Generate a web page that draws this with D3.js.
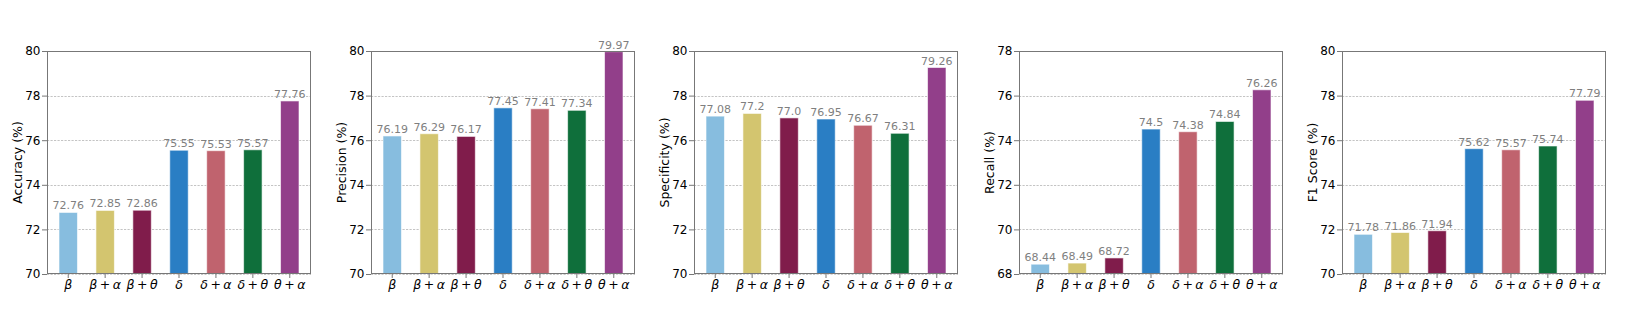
<!DOCTYPE html>
<html>
<head>
<meta charset="utf-8">
<script src="https://cdn.jsdelivr.net/npm/d3@7"></script>
<style>
  body { margin: 0; background: #fff; }
  text { font-family: "DejaVu Sans", sans-serif; }
</style>
</head>
<body>
<div id="chart"></div>
<script>
// categories (mathtext-like labels: greek + greek)
var categories = ["β", "β+α", "β+θ", "δ", "δ+α", "δ+θ", "θ+α"];
var colors = ["#87bddf", "#d3c56f", "#801c4b", "#2a7ec4", "#c0636e", "#0f6f3b", "#923f8a"];

// metric names and values
var metrics = ["Accuracy (%)", "Precision (%)", "Specificity (%)", "Recall (%)", "F1 Score (%)"];
var accuracy    = [72.76, 72.85, 72.86, 75.55, 75.53, 75.57, 77.76];
var precision   = [76.19, 76.29, 76.17, 77.45, 77.41, 77.34, 79.97];
var specificity = [77.08, 77.2, 77.0, 76.95, 76.67, 76.31, 79.26];
var recall      = [68.44, 68.49, 68.72, 74.5, 74.38, 74.84, 76.26];
var f1          = [71.78, 71.86, 71.94, 75.62, 75.57, 75.74, 77.79];
var valueLabels = [
  ["72.76", "72.85", "72.86", "75.55", "75.53", "75.57", "77.76"],
  ["76.19", "76.29", "76.17", "77.45", "77.41", "77.34", "79.97"],
  ["77.08", "77.2", "77.0", "76.95", "76.67", "76.31", "79.26"],
  ["68.44", "68.49", "68.72", "74.5", "74.38", "74.84", "76.26"],
  ["71.78", "71.86", "71.94", "75.62", "75.57", "75.74", "77.79"]
];
var seriesValues = [accuracy, precision, specificity, recall, f1];

// y ranges and ticks
var yDomains = [[70, 80], [70, 80], [70, 80], [68, 78], [70, 80]];
var yTicks = [
  [70, 72, 74, 76, 78, 80],
  [70, 72, 74, 76, 78, 80],
  [70, 72, 74, 76, 78, 80],
  [68, 70, 72, 74, 76, 78],
  [70, 72, 74, 76, 78, 80]
];

var W = 1644, H = 325;
var panelLeft = [47, 371, 694, 1019, 1342];
var panelW = 264, plotTop = 51, plotBottom = 274;

var svg = d3.select("#chart")
  .append("svg")
    .attr("width", W)
    .attr("height", H);

svg.append("rect").attr("width", W).attr("height", H).attr("fill", "#fff");

metrics.forEach(function(name, k) {
  var values = seriesValues[k];
  var g = svg.append("g")
    .attr("transform", "translate(" + panelLeft[k] + "," + plotTop + ")");
  var h = plotBottom - plotTop;

  // x: bar centers at 0..6, width 0.5, matplotlib 5% margins
  var x = d3.scaleLinear()
    .domain([-0.575, 6.575])
    .range([0, panelW]);

  var y = d3.scaleLinear()
    .domain(yDomains[k])
    .range([h, 0]);

  // grid
  g.selectAll(".grid")
    .data(yTicks[k])
    .enter()
    .append("line")
      .attr("x1", 0)
      .attr("x2", panelW)
      .attr("y1", function(d) { return Math.round(y(d)) + 0.5; })
      .attr("y2", function(d) { return Math.round(y(d)) + 0.5; })
      .attr("stroke", "#aaa")
      .attr("stroke-width", 0.7)
      .attr("stroke-dasharray", "2.2,1.3");

  // bars
  g.selectAll(".bar")
    .data(values)
    .enter()
    .append("rect")
      .attr("x", function(d, i) { return x(i - 0.25); })
      .attr("y", function(d) { return y(d); })
      .attr("width", x(0.25) - x(-0.25))
      .attr("height", function(d) { return h - y(d); })
      .attr("fill", function(d, i) { return colors[i]; })
      .attr("stroke", "rgba(255,255,255,0.6)")
      .attr("stroke-width", 1);

  // value labels
  g.selectAll(".val")
    .data(values)
    .enter()
    .append("text")
      .attr("x", function(d, i) { return x(i); })
      .attr("y", function(d) { return y(d) - 3; })
      .attr("text-anchor", "middle")
      .attr("font-size", 11)
      .attr("fill", "#7f7f7f")
      .text(function(d, i) { return valueLabels[k][i]; });

  // y axis
  var yAxis = g.append("g")
    .call(d3.axisLeft(y).tickValues(yTicks[k]).tickSize(5).tickPadding(1.5));
  yAxis.select(".domain").remove();
  yAxis.selectAll("line").attr("stroke", "#777");
  yAxis.selectAll("text")
    .attr("font-size", 12)
    .attr("fill", "#000")
    .style("font-family", "DejaVu Sans");

  // x tick marks
  g.selectAll(".xtick")
    .data(categories)
    .enter()
    .append("line")
      .attr("x1", function(d, i) { return x(i); })
      .attr("x2", function(d, i) { return x(i); })
      .attr("y1", h)
      .attr("y2", h + 4)
      .attr("stroke", "#777");

  // x tick labels
  var xl = g.selectAll(".xlab")
    .data(categories)
    .enter()
    .append("text")
      .attr("x", function(d, i) { return x(i); })
      .attr("y", h + 14.7)
      .attr("text-anchor", "middle")
      .attr("font-size", 12.5)
      .attr("fill", "#000");
  xl.each(function(d) {
    var t = d3.select(this);
    var parts = d.split("+");
    t.append("tspan").attr("font-style", "italic").text(parts[0]);
    if (parts.length > 1) {
      t.append("tspan").attr("dx", "0.2em").text("+");
      t.append("tspan").attr("dx", "0.2em").attr("font-style", "italic").text(parts[1]);
    }
  });

  // frame
  g.append("rect")
    .attr("x", 0.5)
    .attr("y", 0.5)
    .attr("width", panelW - 1)
    .attr("height", h - 1)
    .attr("fill", "none")
    .attr("stroke", "#777")
    .attr("stroke-width", 1);

  // y label
  g.append("text")
    .attr("transform", "translate(-30," + (h / 2) + ") rotate(-90)")
    .attr("text-anchor", "middle")
    .attr("dominant-baseline", "central")
    .attr("font-size", 12.5)
    .attr("fill", "#000")
    .text(name);
});
</script>
</body>
</html>
